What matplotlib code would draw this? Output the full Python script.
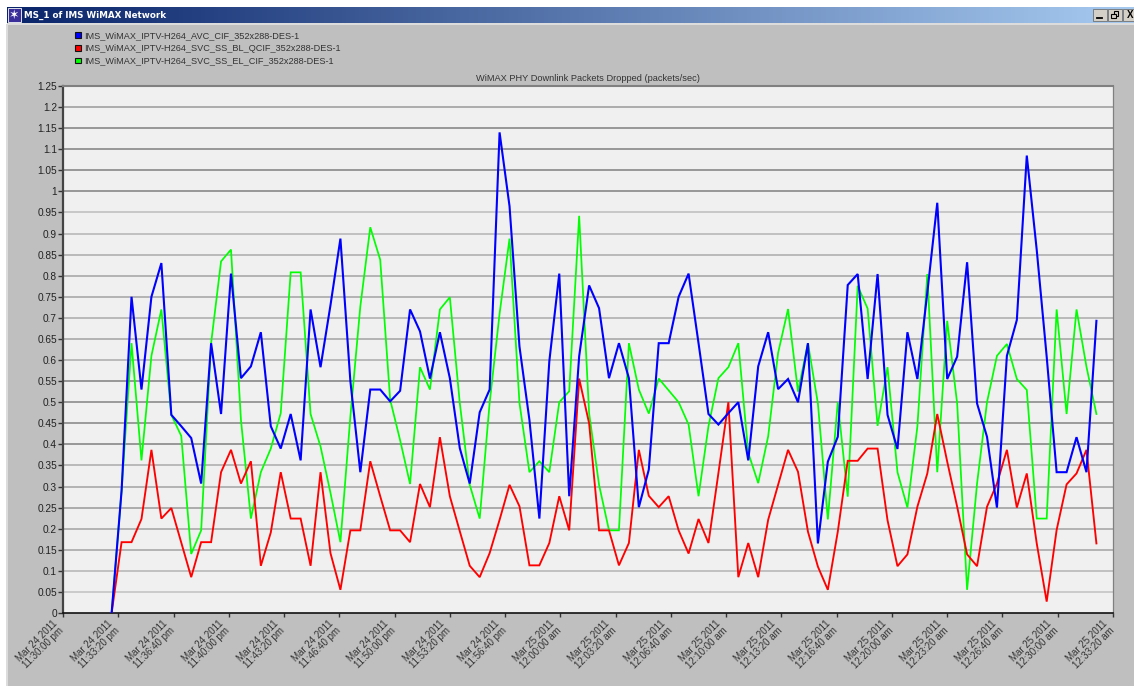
import numpy as np
import matplotlib
matplotlib.use("Agg")
import matplotlib.pyplot as plt
from matplotlib.patches import Patch, Rectangle
from matplotlib.transforms import ScaledTranslation

plt.rcParams['font.family'] = ['Liberation Sans', 'DejaVu Sans']

title = "WiMAX PHY Downlink Packets Dropped (packets/sec)"
window_title = "MS_1 of IMS WiMAX Network"
series_names = ["IMS_WiMAX_IPTV-H264_AVC_CIF_352x288-DES-1",
                "IMS_WiMAX_IPTV-H264_SVC_SS_BL_QCIF_352x288-DES-1",
                "IMS_WiMAX_IPTV-H264_SVC_SS_EL_CIF_352x288-DES-1"]

blue_values = [0, .29, .75, .53, .75, .83, .47, .443, .415, .307, .64, .472, .805, .557, .585, .666, .443, .39, .472, .362,
               .72, .583, .73, .888, .55, .334, .53, .53, .502, .527, .72, .668, .556, .666, .557, .391, .307, .476, .53, 1.14,
               .965, .632, .458, .224, .597, .805, .277, .609, .777, .723, .557, .64, .557, .251, .34, .64, .64, .75, .805, .64,
               .472, .447, .474, .5, .362, .585, .666, .531, .555, .5, .64, .165, .359, .418, .778, .804, .555, .804, .47, .389,
               .666, .555, .76, .973, .555, .608, .832, .497, .418, .25, .61, .695, 1.085, .861, .608, .334, .334, .417, .334, .693]
red_values = [0, .168, .168, .223, .387, .224, .249, .167, .085, .168, .168, .334, .387, .307, .36, .112, .191, .334, .224, .224,
              .112, .334, .142, .055, .196, .196, .36, .277, .196, .196, .168, .306, .251, .417, .277, .194, .112, .085, .142, .221,
              .304, .253, .113, .113, .166, .277, .196, .556, .45, .196, .196, .113, .166, .387, .278, .251, .277, .196, .141, .223,
              .166, .332, .5, .085, .166, .085, .221, .304, .387, .335, .193, .11, .055, .193, .361, .361, .39, .39, .22, .111,
              .139, .252, .331, .472, .359, .252, .139, .111, .252, .307, .387, .25, .331, .165, .027, .197, .305, .331, .387, .165]
green_values = [0, .29, .64, .362, .61, .72, .47, .42, .14, .196, .64, .834, .862, .458, .224, .334, .39, .474, .808, .808,
                .472, .395, .285, .168, .466, .727, .915, .838, .506, .41, .306, .583, .53, .72, .749, .498, .304, .224, .498, .71,
                .888, .498, .334, .36, .334, .5, .526, .942, .474, .304, .196, .196, .64, .53, .473, .556, .528, .5, .447, .277,
                .443, .557, .583, .64, .38, .308, .419, .617, .721, .525, .64, .497, .222, .5, .276, .776, .722, .444, .583, .334,
                .25, .442, .804, .334, .693, .497, .055, .307, .5, .61, .638, .555, .529, .224, .224, .72, .472, .72, .584, .472]

y_ticks = [0, .05, .1, .15, .2, .25, .3, .35, .4, .45, .5, .55, .6, .65, .7, .75, .8, .85, .9, .95, 1, 1.05, 1.1, 1.15, 1.2, 1.25]
y_labels = ["0", "0.05", "0.1", "0.15", "0.2", "0.25", "0.3", "0.35", "0.4", "0.45", "0.5", "0.55", "0.6", "0.65", "0.7",
            "0.75", "0.8", "0.85", "0.9", "0.95", "1", "1.05", "1.1", "1.15", "1.2", "1.25"]
grid_grays = ["#c8c8c8", "#c4c4c4", "#b8b8b8", "#a8a8a8", "#a8a8a8", "#a0a0a0", "#a8a8a8", "#b0b0b0", "#888888", "#8c8c8c",
              "#8c8c8c", "#888888", "#b0b0b0", "#a8a8a8", "#b0b0b0", "#a8a8a8", "#a8a8a8", "#b0b0b0", "#b8b8b8", "#c0c0c0",
              "#888888", "#888888", "#888888", "#888888", "#a0a0a0", "#808080"]
x_tick_labels = ["Mar 24 2011\n11:30:00 pm", "Mar 24 2011\n11:33:20 pm", "Mar 24 2011\n11:36:40 pm", "Mar 24 2011\n11:40:00 pm",
                 "Mar 24 2011\n11:43:20 pm", "Mar 24 2011\n11:46:40 pm", "Mar 24 2011\n11:50:00 pm", "Mar 24 2011\n11:53:20 pm",
                 "Mar 24 2011\n11:56:40 pm", "Mar 25 2011\n12:00:00 am", "Mar 25 2011\n12:03:20 am", "Mar 25 2011\n12:06:40 am",
                 "Mar 25 2011\n12:10:00 am", "Mar 25 2011\n12:13:20 am", "Mar 25 2011\n12:16:40 am", "Mar 25 2011\n12:20:00 am",
                 "Mar 25 2011\n12:23:20 am", "Mar 25 2011\n12:26:40 am", "Mar 25 2011\n12:30:00 am", "Mar 25 2011\n12:33:20 am"]

W, H = 1134, 686
fig = plt.figure(figsize=(W / 100, H / 100), dpi=100, facecolor="white")

# window chrome, laid out in pixels
chrome = fig.add_axes([0, 0, 1, 1], zorder=0)
chrome.axis("off")
chrome.add_patch(Rectangle((7, 24), W - 7, H - 24, facecolor="#bfbfbf", edgecolor="none"))
chrome.add_patch(Rectangle((7, 23), W - 7, 2, facecolor="#dcdcdc", edgecolor="none"))
chrome.add_patch(Rectangle((6, 24), 2, H - 24, facecolor="#dcdcdc", edgecolor="none"))
gradient = np.linspace(0, 1, 256)[None, :, None]
colour_a = np.array([10, 36, 106]) / 255
colour_b = np.array([166, 202, 240]) / 255
chrome.imshow(colour_a + (colour_b - colour_a) * gradient, extent=(7, W, 23, 7), aspect="auto", zorder=1)
chrome.set_xlim(0, W)
chrome.set_ylim(H, 0)
chrome.add_patch(Rectangle((8, 8), 13, 14, facecolor="#3a2f9a", edgecolor="white", linewidth=0.6, zorder=2))
chrome.text(14.5, 15.5, "✶", color="white", fontsize=9, ha="center", va="center", zorder=3, family="DejaVu Sans")
chrome.text(24, 15, window_title, color="white", fontsize=6.3, fontweight="bold", va="center", ha="left", zorder=3, family="DejaVu Sans")
for left in [1093, 1108, 1123]:
    chrome.add_patch(Rectangle((left, 9), 13.5, 11.5, facecolor="#d4d0c8", edgecolor="#606060", linewidth=0.5, zorder=2))
chrome.plot([1097, 1102], [17.5, 17.5], color="black", linewidth=1.3, zorder=3)
chrome.add_patch(Rectangle((1113.5, 11), 4.5, 4.5, facecolor="none", edgecolor="black", linewidth=0.8, zorder=3))
chrome.add_patch(Rectangle((1111, 13.5), 4.5, 4.5, facecolor="#d4d0c8", edgecolor="black", linewidth=0.8, zorder=3))
chrome.text(1130, 14.8, "X", color="black", fontsize=7, fontweight="bold", ha="center", va="center", zorder=3)

# chart
L, R, T, B = 63, 1113, 86, 613
ax = fig.add_axes([L / W, 1 - B / H, (R - L) / W, (B - T) / H], zorder=1, facecolor="#f0f0f0")

sample_count = len(blue_values)
sample_seconds = np.arange(sample_count) * 36 + 176

ax.set_xlim(0, 3800)
ax.set_ylim(0, 1.25)
ax.set_yticks(y_ticks, y_labels)
ax.set_xticks(np.arange(len(x_tick_labels)) * 200)
ax.set_xticklabels(x_tick_labels, rotation=45, ha="right", va="top", rotation_mode="anchor", linespacing=1.0, multialignment="center")

for level, gray in zip(y_ticks[1:-1], grid_grays[1:-1]):
    ax.axhline(level, color=gray, linewidth=1.2, zorder=1)

ax.plot(sample_seconds, green_values, color="#00ff00", linewidth=1.25, zorder=3, solid_joinstyle="miter")
ax.plot(sample_seconds, red_values, color="#ff0000", linewidth=1.35, zorder=4, solid_joinstyle="miter")
ax.plot(sample_seconds, blue_values, color="#0000ff", linewidth=1.5, zorder=5, solid_joinstyle="miter")

ax.tick_params(axis="y", length=3.5, width=1, color="#333333", labelsize=7.3, labelcolor="#222222", pad=0.8)
ax.tick_params(axis="x", length=3, width=1, color="#333333", labelsize=7, labelcolor="#333333", pad=3)
label_shift = ScaledTranslation(-11 / 100, 3 / 100, fig.dpi_scale_trans)
for tick_label in ax.get_xticklabels():
    tick_label.set_transform(tick_label.get_transform() + label_shift)
ax.spines["left"].set_color("#444444")
ax.spines["left"].set_linewidth(1.6)
ax.spines["bottom"].set_color("#111111")
ax.spines["bottom"].set_linewidth(1.2)
ax.spines["top"].set_color("#808080")
ax.spines["top"].set_linewidth(1.5)
ax.spines["right"].set_color("#808080")
ax.spines["right"].set_linewidth(0.9)
ax.set_title(title, fontsize=6.7, color="#333333", pad=3.5)

handles = [Patch(facecolor=c, edgecolor="#111111", linewidth=0.8) for c in ["#0000ff", "#ff0000", "#00ff00"]]
legend = fig.legend(handles, series_names, loc="upper left", bbox_to_anchor=(75 / W, 1 - 31 / H), bbox_transform=fig.transFigure,
                    frameon=False, fontsize=6.6, labelspacing=0.42, handlelength=0.62, handleheight=0.62, handletextpad=0.42,
                    borderpad=0, borderaxespad=0, labelcolor="#333333")

fig.savefig("out.png", dpi=100, facecolor="white")
